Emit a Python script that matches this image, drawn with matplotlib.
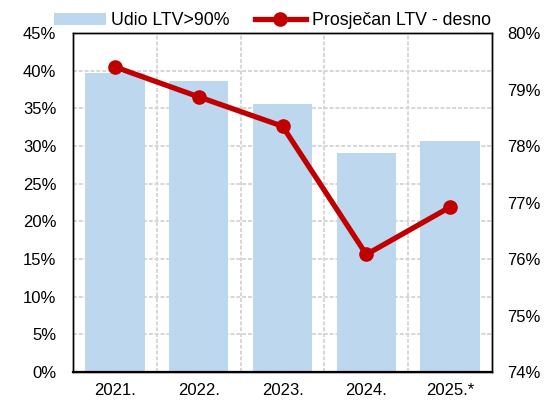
import matplotlib
matplotlib.use("Agg")
import matplotlib.pyplot as plt
from matplotlib.ticker import FixedLocator, FuncFormatter

plt.rcParams['font.family'] = ['Liberation Sans', 'DejaVu Sans']

years = ["2021.", "2022.", "2023.", "2024.", "2025.*"]
share_ltv_over_90 = [39.7, 38.6, 35.6, 29.1, 30.6]      # %, left axis
average_ltv = [79.40, 78.87, 78.35, 76.08, 76.92]        # %, right axis

bar_color = "#BDD7EE"
line_color = "#C00000"
grid_color = "#D6D6D6"

fig = plt.figure(figsize=(5.46, 4.01), dpi=100)
ax = fig.add_axes([0.1337, 0.0723, 0.7674, 0.8454])
ax2 = ax.twinx()

x = list(range(len(years)))
bars = ax.bar(x, share_ltv_over_90, width=0.71, color=bar_color, zorder=2,
              label="Udio LTV>90%")
line, = ax2.plot(x, average_ltv, color=line_color, lw=3.8, marker="o",
                 markersize=9.5, zorder=3, label="Prosječan LTV - desno")

ax.set_xlim(-0.5, len(years) - 0.5)
ax.set_ylim(0, 45)
ax.set_yticks(range(0, 46, 5))
ax.yaxis.set_major_formatter(FuncFormatter(lambda v, p: f"{v:.0f}%"))
ax2.set_ylim(74, 80)
ax2.set_yticks(range(74, 81))
ax2.yaxis.set_major_formatter(FuncFormatter(lambda v, p: f"{v:.0f}%"))

ax.set_xticks(x)
ax.set_xticklabels(years)
ax.xaxis.set_minor_locator(FixedLocator([i + 0.5 for i in x[:-1]]))

ax.grid(axis="y", which="major", color=grid_color, lw=1.4, ls=(0, (2, 1)), zorder=0)
ax.grid(axis="x", which="minor", color=grid_color, lw=1.4, ls=(0, (2, 1)), zorder=0)
ax.set_axisbelow(True)

for a in (ax, ax2):
    a.tick_params(axis="both", which="both", length=0, labelsize=12, colors="#000000")
    for s in a.spines.values():
        s.set_color("#000000")
        s.set_linewidth(1.0)
ax.spines["bottom"].set_linewidth(1.6)
ax.tick_params(axis="y", pad=12)
ax2.tick_params(axis="y", pad=11)
ax.tick_params(axis="x", pad=8)

ax.legend([bars, line], [bars.get_label(), line.get_label()], ncol=2,
          loc="lower center", bbox_to_anchor=(0.476, 0.99), frameon=False,
          fontsize=12.8, handlelength=2.9, handletextpad=0.3, columnspacing=1.4,
          borderaxespad=0)

fig.savefig("out.png", dpi=100)
